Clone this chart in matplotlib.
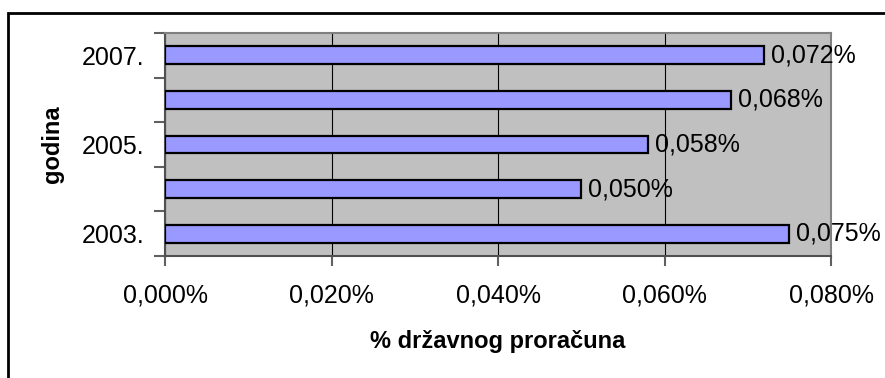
import numpy as np
import matplotlib.pyplot as plt
from matplotlib.patches import Rectangle

plt.rcParams['font.family'] = ['Liberation Sans', 'DejaVu Sans']

godine = ['2003.', '2004.', '2005.', '2006.', '2007.']
udio = [0.075, 0.050, 0.058, 0.068, 0.072]
oznake_x = [0.0, 0.02, 0.04, 0.06, 0.08]

def fmt(v, dec=3):
	return f'{v:.{dec}f}'.replace('.', ',') + '%'

fig = plt.figure(figsize=(8.85, 3.78), dpi=100)
ax = fig.add_axes([165/885, 1-256/378, 666/885, 223/378])

# okvir oko cijelog grafikona
fig.patches.append(Rectangle((8/885, -0.1), 1.2, 1-13/378+0.1, transform=fig.transFigure,
	fill=False, edgecolor='black', lw=2))

y = np.arange(len(godine))
ax.set_facecolor('#C0C0C0')
ax.barh(y, udio, height=0.4, color='#9999FF', edgecolor='black', lw=1.6, zorder=3)
for yi, v in zip(y, udio):
	ax.text(v + 0.0008, yi, fmt(v), va='center', ha='left', fontsize=18, zorder=4)

ax.set_xlim(0, 0.08)
ax.set_ylim(-0.5, len(godine) - 0.5)
ax.set_xticks(oznake_x)
ax.set_xticklabels([fmt(v) for v in oznake_x], fontsize=18)
ax.set_yticks(y[::2])
ax.set_yticklabels(godine[::2], fontsize=18)
ax.set_yticks(np.arange(-0.5, len(godine), 1), minor=True)
ax.tick_params(axis='y', which='major', length=0, pad=14.5)
ax.tick_params(axis='y', which='minor', length=8, width=1.5, color='#606060')
ax.tick_params(axis='x', length=7, width=1.5, color='#606060', pad=13)
ax.grid(axis='x', color='black', lw=0.8, zorder=1)
for s in ax.spines.values():
	s.set_color('#808080')
	s.set_linewidth(1.5)
ax.spines['left'].set_color('#505050')
ax.spines['bottom'].set_color('#505050')

ax.set_xlabel('% državnog proračuna', fontsize=17, fontweight='bold', labelpad=16)
ax.set_ylabel('godina', fontsize=17, fontweight='bold', labelpad=13)

fig.savefig('out.png', dpi=100)
